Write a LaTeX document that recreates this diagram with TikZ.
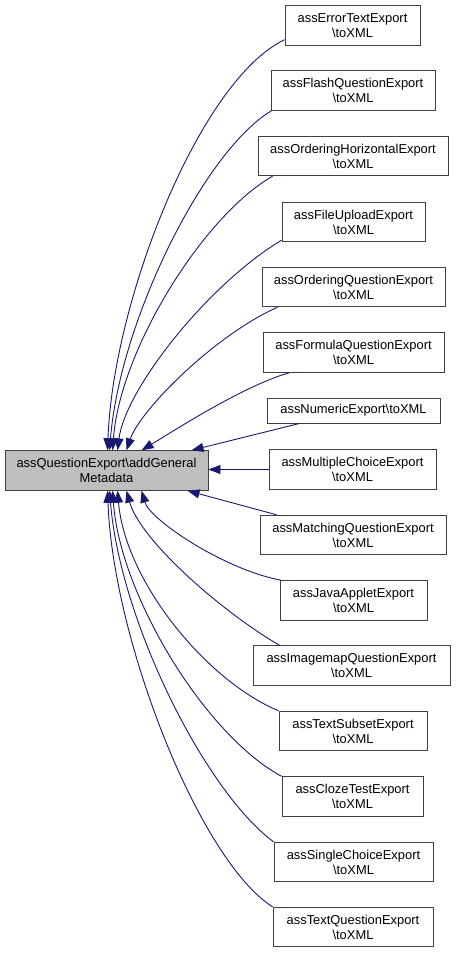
\documentclass[tikz,border=0pt]{standalone}
\usepackage{fontspec}
\setmainfont{Liberation Sans}
\usetikzlibrary{arrows.meta}
\definecolor{edgeblue}{HTML}{191970}
\definecolor{boxgray}{HTML}{404040}
\definecolor{mainfill}{HTML}{BFBFBF}
\begin{document}
\begin{tikzpicture}[x=1pt,y=-1pt,
  box/.style={draw=boxgray,line width=0.9pt,fill=white,inner sep=0pt,align=center,
    minimum height=39.5pt,font=\fontsize{12.9}{15}\selectfont},
  mainbox/.style={box,fill=mainfill},
  edge/.style={draw=edgeblue,line width=0.9pt,-{Triangle[length=12pt,width=9pt]}}]
\useasboundingbox (0,0) rectangle (456,953);
\newcommand{\bs}{\textbackslash}
\node[mainbox,minimum width=203pt] (L) at (106.5,470.5) {assQuestionExport\bs addGeneral\\Metadata};
\node[box,minimum width=135pt] (R1) at (352.5,25.5) {assErrorTextExport\\\bs toXML};
\node[box,minimum width=164pt] (R2) at (353,90.5) {assFlashQuestionExport\\\bs toXML};
\node[box,minimum width=190pt] (R3) at (353,156) {assOrderingHorizontalExport\\\bs toXML};
\node[box,minimum width=143pt] (R4) at (353.5,222) {assFileUploadExport\\\bs toXML};
\node[box,minimum width=183pt] (R5) at (353.5,287) {assOrderingQuestionExport\\\bs toXML};
\node[box,minimum width=181pt] (R6) at (353.5,352.5) {assFormulaQuestionExport\\\bs toXML};
\node[box,minimum width=173pt,minimum height=25pt] (R7) at (353.5,410.5) {assNumericExport\bs toXML};
\node[box,minimum width=167pt] (R8) at (352.5,469.5) {assMultipleChoiceExport\\\bs toXML};
\node[box,minimum width=186pt] (R9) at (353,535) {assMatchingQuestionExport\\\bs toXML};
\node[box,minimum width=147pt] (R10) at (353.5,600.5) {assJavaAppletExport\\\bs toXML};
\node[box,minimum width=197pt] (R11) at (351.5,665.5) {assImagemapQuestionExport\\\bs toXML};
\node[box,minimum width=148pt] (R12) at (353,731) {assTextSubsetExport\\\bs toXML};
\node[box,minimum width=141pt] (R13) at (352.5,796.5) {assClozeTestExport\\\bs toXML};
\node[box,minimum width=159pt] (R14) at (353.5,862) {assSingleChoiceExport\\\bs toXML};
\node[box,minimum width=160pt] (R15) at (353,927) {assTextQuestionExport\\\bs toXML};
% upper edges
\draw[edge] ([yshift=6pt]R1.south west) .. controls (200,80) and (113,300) .. ([xshift=103pt]L.north west);
\draw[edge] ([xshift=1pt]R2.south west) .. controls (205,150) and (120,320) .. ([xshift=105pt]L.north west);
\draw[edge] ([xshift=15pt]R3.south west) .. controls (203,216) and (120,350) .. ([xshift=108pt]L.north west);
\draw[edge] ([yshift=2pt]R4.south west) .. controls (207,285) and (125,390) .. ([xshift=113pt]L.north west);
\draw[edge] ([xshift=16pt]R5.south west) .. controls (215,335) and (140,410) .. ([xshift=122pt]L.north west);
\draw[edge] ([xshift=27pt]R6.south west) .. controls (245,385) and (175,430) .. ([xshift=137pt]L.north west);
\draw[edge] ([xshift=33pt]R7.south west) -- ([xshift=187pt]L.north west);
% middle
\draw[edge] (R8.west) -- (R8.west -| L.east);
% lower edges
\draw[edge] ([xshift=17pt]R9.north west) -- ([xshift=183pt]L.south west);
\draw[edge] ([xshift=2pt]R10.north west) .. controls (225,570) and (150,520) .. ([xshift=137pt]L.south west);
\draw[edge] ([xshift=27pt]R11.north west) .. controls (222,612) and (140,540) .. ([xshift=122pt]L.south west);
\draw[edge] (R12.north west) .. controls (205,680) and (125,580) .. ([xshift=113pt]L.south west);
\draw[edge] (R13.north west) .. controls (205,735) and (120,595) .. ([xshift=108pt]L.south west);
\draw[edge] (R14.north west) .. controls (205,791) and (120,621) .. ([xshift=105pt]L.south west);
\draw[edge] (R15.north west) .. controls (200,861) and (113,641) .. ([xshift=103pt]L.south west);
\end{tikzpicture}
\end{document}
